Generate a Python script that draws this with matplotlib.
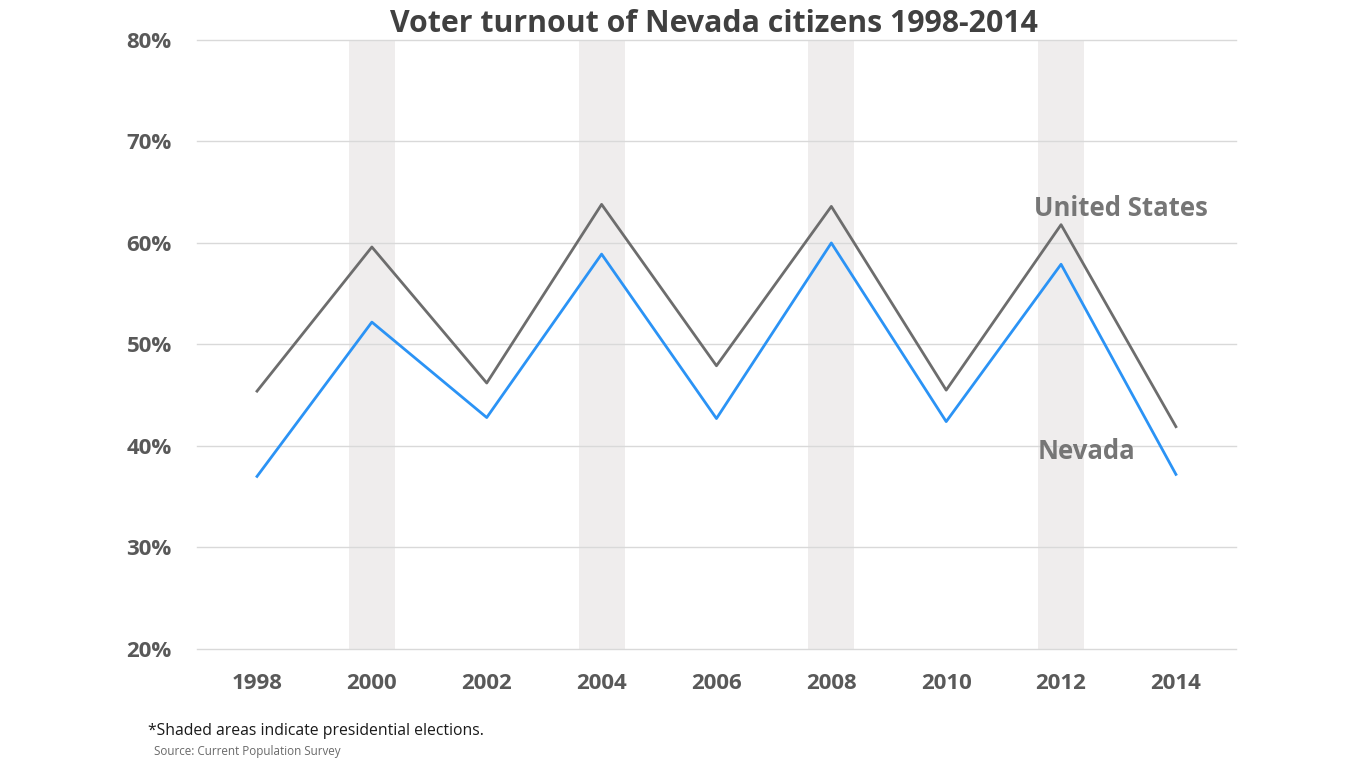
import matplotlib.pyplot as plt
import numpy as np

years = [1998, 2000, 2002, 2004, 2006, 2008, 2010, 2012, 2014]
us_turnout = [45.4, 59.6, 46.2, 63.8, 47.9, 63.6, 45.5, 61.8, 41.9]
nevada_turnout = [37.0, 52.2, 42.8, 58.9, 42.7, 60.0, 42.4, 57.9, 37.2]
presidential_years = [2000, 2004, 2008, 2012]
y_ticks = [20, 30, 40, 50, 60, 70, 80]

font = 'Open Sans'
tick_color = '#595959'

fig = plt.figure(figsize=(13.66, 7.68), dpi=100)
ax = fig.add_axes([0.144, 0.155, 0.761, 0.793])

for yr in presidential_years:
    ax.axvspan(yr - 0.4, yr + 0.4, color='#efeded', zorder=0, lw=0)

ax.plot(years, us_turnout, color='#6d6d6d', lw=2.0, zorder=3)
ax.plot(years, nevada_turnout, color='#2b93f5', lw=2.0, zorder=3)

ax.set_xlim(1996.95, 2015.05)
ax.set_ylim(20, 80)
ax.set_xticks(years)
ax.set_yticks(y_ticks)
ax.set_yticklabels([f'{v}%' for v in y_ticks])
ax.grid(axis='y', color='#d9d9d9', lw=1, zorder=1, clip_on=False)
ax.set_axisbelow(False)
for s in ax.spines.values():
    s.set_visible(False)
ax.tick_params(length=0, labelsize=16, labelcolor=tick_color)
ax.tick_params(axis='y', pad=18)
ax.tick_params(axis='x', pad=17)
for lab in ax.get_xticklabels() + ax.get_yticklabels():
    lab.set_fontfamily(font)
    lab.set_fontweight('bold')

ax.text(2013.04, 63.4, 'United States', fontsize=18.5, fontweight='bold', color='#767676',
        family=font, ha='center', va='center', zorder=4)
ax.text(2012.45, 39.5, 'Nevada', fontsize=18.5, fontweight='bold', color='#767676',
        family=font, ha='center', va='center', zorder=4)

fig.text(0.523, 0.969, 'Voter turnout of Nevada citizens 1998-2014', fontsize=21.8,
         fontweight='bold', color='#404040', family=font, ha='center', va='center')
fig.text(0.108, 0.048, '*Shaded areas indicate presidential elections.', fontsize=11.3,
         color='#1a1a1a', family=font, ha='left', va='center')
fig.text(0.113, 0.021, 'Source: Current Population Survey', fontsize=8.4,
         color='#6a6a6a', family=font, ha='left', va='center')

fig.savefig('out.png', dpi=100)
